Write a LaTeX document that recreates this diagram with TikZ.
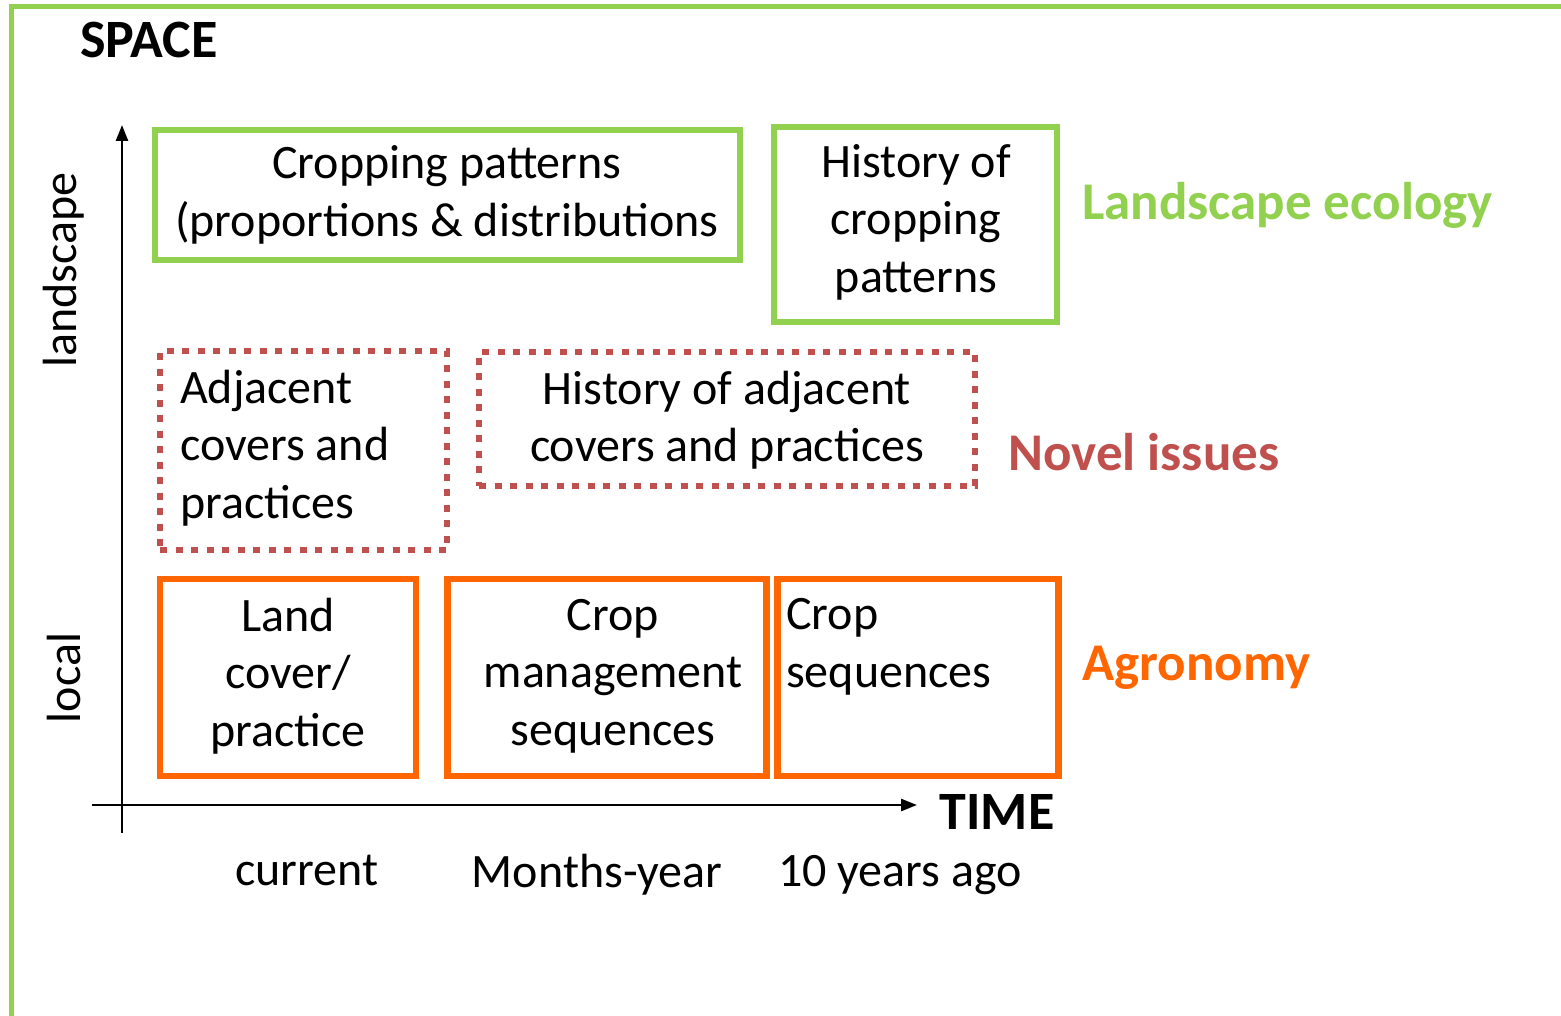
\documentclass[tikz,border=0pt]{standalone}
\usepackage{fontspec}
\setmainfont{Carlito}
\usetikzlibrary{arrows.meta}
\definecolor{lgreen}{HTML}{92D050}
\definecolor{nred}{HTML}{C0504D}
\definecolor{agor}{HTML}{FF6600}
\tikzset{
  body/.style={font=\fontsize{48}{57.5}\selectfont, inner sep=0pt, align=center},
  headlab/.style={font=\fontsize{53}{60}\selectfont\bfseries, inner sep=0pt, anchor=west},
  axlab/.style={font=\fontsize{54}{60}\selectfont\bfseries, inner sep=0pt},
  gbox/.style={draw=lgreen, line width=6pt, inner sep=0pt},
  rbox/.style={draw=nred, line width=6pt, dash pattern=on 7pt off 8.5pt, inner sep=0pt},
  obox/.style={draw=agor, line width=6.5pt, inner sep=0pt},
  axis/.style={line width=2.5pt, -{Triangle[length=16pt,width=12pt]}},
}
\begin{document}
\begin{tikzpicture}[x=1pt,y=-1pt]
\useasboundingbox (0,0) rectangle (1561,1016);
\fill[white] (0,0) rectangle (1561,1016);
% outer frame
\draw[lgreen, line width=5pt] (11,1030) |- (1575,7);

% axes
\coordinate (ybot) at (122,833);
\coordinate (ytop) at (122,125);
\coordinate (xl) at (92,805);
\coordinate (xr) at (917,805);
\draw[axis] (ybot) -- (ytop);
\draw[axis] (xl) -- (xr);

\node[axlab] (space) at (149,40) {SPACE};
\node[axlab] (time) at (997,812) {TIME};
\node[body, rotate=90] (landscape) at (64,270) {landscape};
\node[body, rotate=90] (local) at (64,678) {local};

% green boxes
\node[gbox, minimum width=585pt, minimum height=130pt] (g1) at (447.5,195) {};
\node[body] (g1t) at (447,195) {Cropping patterns\\(proportions \& distributions};
\node[gbox, minimum width=283pt, minimum height=195pt] (g2) at (915.5,224.5) {};
\node[body] (g2t) at (916,222) {History of\\cropping\\patterns};

% red dotted boxes
\node[rbox, minimum width=287pt, minimum height=199pt] (r1) at (303.5,450.5) {};
\node[body, align=left, anchor=west] (r1t) at (180,448) {Adjacent\\covers and\\practices};
\node[rbox, minimum width=496pt, minimum height=134pt] (r2) at (727,419) {};
\node[body] (r2t) at (727,420) {History of adjacent\\covers and practices};

% orange boxes
\node[obox, minimum width=256pt, minimum height=197pt] (o1) at (288,677.5) {};
\node[body] (o1t) at (288,676) {Land\\cover/\\practice};
\node[obox, minimum width=319pt, minimum height=197pt] (o2) at (607,677.5) {};
\node[body] (o2t) at (613,676) {Crop\\management\\sequences};
\node[obox, minimum width=281pt, minimum height=197pt] (o3) at (918,677.5) {};
\node[body, align=left, anchor=west] (o3t) at (786,647) {Crop\\sequences};

% category labels
\node[headlab, text=lgreen] (le) at (1082,205) {Landscape ecology};
\node[headlab, text=nred] (ni) at (1008,452) {Novel issues};
\node[headlab, text=agor] (ag) at (1082,668) {Agronomy};

% time labels
\node[body] (cur) at (307,870) {current};
\node[body] (my) at (597,875) {Months-year};
\node[body] (ten) at (900,875) {10 years ago};
\end{tikzpicture}
\end{document}
